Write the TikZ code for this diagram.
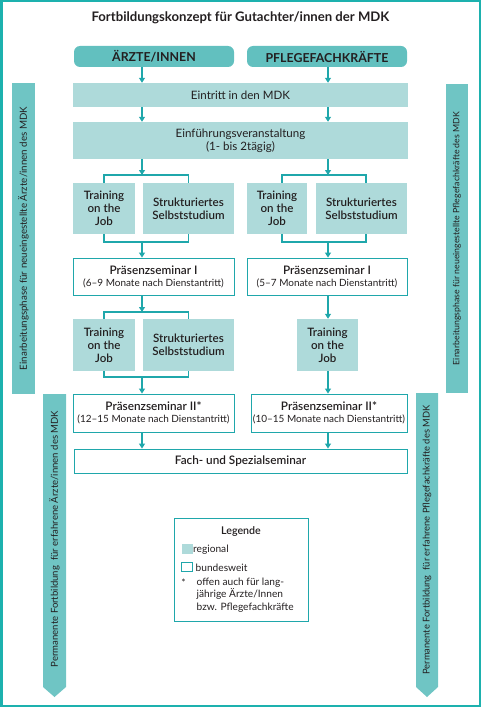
\documentclass[tikz,border=0pt]{standalone}
\usepackage{fontspec}
\setmainfont{Lato}
\IfFontExistsTF{Lato Semibold}{\newfontfamily\semib{Lato Semibold}}{\newcommand{\semib}{\bfseries}}
\usetikzlibrary{arrows.meta}
\definecolor{frame}{HTML}{1DB1AE}
\definecolor{lineteal}{HTML}{1FA7AB}
\definecolor{pillc}{HTML}{62C0BF}
\definecolor{barc}{HTML}{6FC5C4}
\definecolor{regc}{HTML}{AEDADA}
\definecolor{txt}{HTML}{231F20}
\newcommand{\fs}[2]{\fontsize{#1}{#2}\selectfont}
\begin{document}
\begin{tikzpicture}[x=1bp,y=-1bp,
  every node/.style={text=txt, inner sep=0pt, align=center},
  pill/.style={fill=pillc, rounded corners=6bp, font=\fs{12.4}{14}\bfseries},
  reg/.style={fill=regc},
  nat/.style={draw=lineteal, line width=0.9bp, fill=white},
  conn/.style={draw=lineteal, line width=1.1bp},
  arr/.style={conn, -{Triangle[width=6bp,length=5bp]}},
  bartext/.style={rotate=90, font=\fs{9.8}{11}},
  boxw/.style={minimum width=#1},
  boxh/.style={minimum height=#1},
  semi/.style={font=\fs{11.6}{13}\semib}]
\useasboundingbox (0,0) rectangle (481,707);
\draw[frame, line width=2.5bp] (1.25,1.25) rectangle (479.75,705.75);

% title
\node[font=\fs{13.2}{15}\bfseries] (title) at (240.5,18) {Fortbildungskonzept für Gutachter/innen der MDK};

% axes for arrows
\coordinate (axA) at (142,0);
\coordinate (axB) at (328,0);

% pills
\node[pill, boxw=160bp, boxh=21bp] (pillA) at (154,56.5) {ÄRZTE/INNEN};
\node[pill, boxw=160bp, boxh=21bp] (pillB) at (327,56.5) {PFLEGEFACHKRÄFTE};

% main boxes
\node[reg, boxw=335bp, boxh=24bp, font=\fs{11.6}{13}] (eintritt) at (240.5,95) {Eintritt in den MDK};
\node[reg, boxw=334bp, boxh=37bp, font=\fs{11.6}{13}] (einf) at (240.5,140.5) {Einführungsveranstaltung\\(1- bis 2tägig)};

\node[reg, semi, boxw=62bp, boxh=51bp] (trA1) at (104,208.5) {Training\\on the\\Job};
\node[reg, semi, boxw=91bp, boxh=51bp] (stA1) at (188.5,208.5) {Strukturiertes\\Selbststudium};
\node[reg, semi, boxw=60bp, boxh=51bp] (trB1) at (277,208.5) {Training\\on the\\Job};
\node[reg, semi, boxw=91bp, boxh=51bp] (stB1) at (361.5,208.5) {Strukturiertes\\Selbststudium};

\node[nat, boxw=161bp, boxh=37bp] (psA1) at (153.5,276.5) {{\fs{11.8}{14}\semib Präsenzseminar I}\\{\fs{10}{14}(6–9 Monate nach Dienstantritt)}};
\node[nat, boxw=160bp, boxh=37bp] (psB1) at (327,276.5) {{\fs{11.8}{14}\semib Präsenzseminar I}\\{\fs{10}{14}(5–7 Monate nach Dienstantritt)}};

\node[reg, semi, boxw=62bp, boxh=52bp] (trA2) at (104,345) {Training\\on the\\Job};
\node[reg, semi, boxw=91bp, boxh=52bp] (stA2) at (188.5,345) {Strukturiertes\\Selbststudium};
\node[reg, semi, boxw=61bp, boxh=52bp] (trB2) at (327.5,345) {Training\\on the\\Job};

\node[nat, boxw=161bp, boxh=38bp] (psA2) at (153.5,413) {{\fs{11.8}{14}\semib Präsenzseminar II*}\\{\fs{10}{14}(12–15 Monate nach Dienstantritt)}};
\node[nat, boxw=156bp, boxh=38bp] (psB2) at (329,413) {{\fs{11.8}{14}\semib Präsenzseminar II*}\\{\fs{10}{14}(10–15 Monate nach Dienstantritt)}};

\node[nat, boxw=333bp, boxh=24bp, font=\fs{11.8}{13}\semib] (fach) at (240.5,461) {Fach- und Spezialseminar};

% bracket points
\coordinate (brA1) at (142,175);
\coordinate (brA2) at (142,242);
\coordinate (brB1) at (328,175);
\coordinate (brB2) at (328,242);
\coordinate (brA3) at (142,312);
\coordinate (brA4) at (142,377);

% connectors
\draw[arr] (pillA.south -| axA) -- (eintritt.north -| axA);
\draw[arr] (pillB.south -| axB) -- (eintritt.north -| axB);
\draw[arr] (eintritt.south -| axA) -- (einf.north -| axA);
\draw[arr] (eintritt.south -| axB) -- (einf.north -| axB);

\draw[arr] (einf.south -| axA) -- (brA1);
\draw[arr] (einf.south -| axB) -- (brB1);
\draw[conn] (trA1.north) |- (brA1) -| (stA1.north);
\draw[conn] ([xshift=5bp]trB1.north) |- (brB1) -| ([xshift=4.5bp]stB1.north);
\draw[conn] (trA1.south) |- (brA2) -| (stA1.south);
\draw[conn] ([xshift=5bp]trB1.south) |- (brB2) -| ([xshift=4.5bp]stB1.south);
\draw[arr] (brA2) -- (psA1.north -| axA);
\draw[arr] (brB2) -- (psB1.north -| axB);

\draw[arr] (psA1.south -| axA) -- (brA3);
\draw[conn] (trA2.north) |- (brA3) -| (stA2.north);
\draw[conn] (trA2.south) |- (brA4) -| (stA2.south);
\draw[arr] (brA4) -- (psA2.north -| axA);
\draw[arr] (psB1.south -| axB) -- (trB2.north -| axB);
\draw[arr] (trB2.south -| axB) -- (psB2.north -| axB);

\draw[arr] (psA2.south -| axA) -- (fach.north -| axA);
\draw[arr] (psB2.south -| axB) -- (fach.north -| axB);

% side bars
\node[fill=barc, minimum width=23bp, minimum height=311bp] (barL1) at (23.5,238.5) {};
\node[bartext] (barL1t) at (barL1.center) {Einarbeitungsphase für neueingestellte Ärzte/innen des MDK};
\node[fill=barc, minimum width=22bp, minimum height=309bp] (barR1) at (457,238.5) {};
\node[bartext, font=\fs{8.8}{10}] (barR1t) at (barR1.center) {Einarbeitungsphase für neueingestellte Pflegefachkräfte des MDK};

\fill[barc] (43,394) -- (66,394) -- (66,687) -- (54.5,697) -- (43,687) -- cycle;
\node[bartext, font=\fs{9.6}{11}] (barL2t) at (54.5,539) {Permanente Fortbildung\ \ für erfahrene Ärzte/innen des MDK};
\fill[barc] (416,393) -- (438,393) -- (438,687) -- (427,697) -- (416,687) -- cycle;
\node[bartext, font=\fs{9.4}{11}] (barR2t) at (427,540) {Permanente Fortbildung\ \ für erfahrene Pflegefachkräfte des MDK};

% legend
\node[draw=lineteal, line width=0.9bp, minimum width=134bp, minimum height=103bp] (leg) at (241,569.5) {};
\node[font=\fs{10.7}{12}\semib] (legt) at (241,532) {Legende};
\node[reg, minimum width=11bp, minimum height=10bp] (swr) at (187,548.5) {};
\node[anchor=west, font=\fs{10.2}{12}] (swrt) at (193,550) {regional};
\node[draw=lineteal, line width=0.9bp, minimum width=11bp, minimum height=9bp] (swb) at (187,566.5) {};
\node[anchor=west, font=\fs{10.2}{12}] (swbt) at (195.5,568) {bundesweit};
\node[font=\fs{10.2}{12}] (star) at (183.5,583) {*};
\node[anchor=north west, align=left, font=\fs{10.2}{12.8}] (legn) at (196.5,577.5) {offen auch für lang-\\jährige Ärzte/Innen\\bzw. Pflegefachkräfte};
\end{tikzpicture}
\end{document}
